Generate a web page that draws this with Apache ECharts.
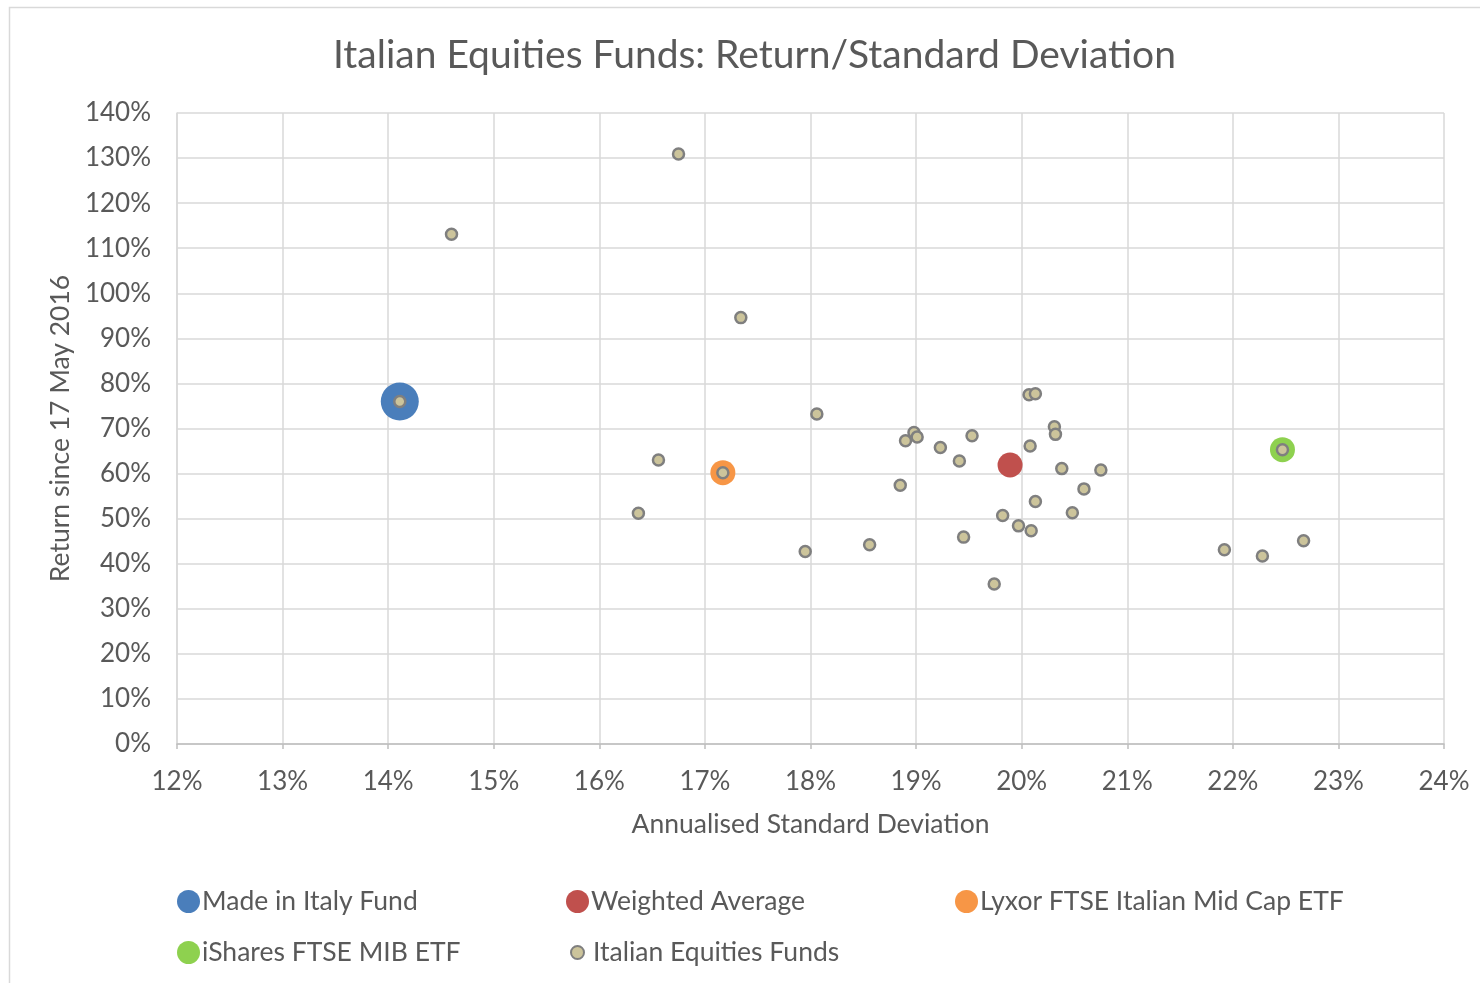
<!DOCTYPE html>
<html>
<head>
<meta charset="utf-8">
<title>Italian Equities Funds: Return/Standard Deviation</title>
<script src="https://cdn.jsdelivr.net/npm/echarts@6/dist/echarts.min.js"></script>
<style>
  html, body { margin: 0; padding: 0; background: #fff; }
  #main { width: 1480px; height: 983px; }
</style>
</head>
<body>
<div id="main"></div>
<script>
// annualised std dev (%) / return since 17 May 2016 (%)
var madeInItaly = [[14.11, 76.0]];
var weightedAvg = [[19.89, 61.9]];
var lyxorMidCap = [[17.17, 60.2]];
var isharesMib = [[22.47, 65.3]];

var fundStd = [14.11, 14.60, 16.37, 16.56, 16.75, 17.17, 17.34, 17.95, 18.06, 18.56,
	18.85, 18.90, 18.98, 19.01, 19.23, 19.41, 19.45, 19.53, 19.74, 19.82,
	19.97, 20.07, 20.08, 20.09, 20.13, 20.13, 20.31, 20.32, 20.38, 20.48,
	20.59, 20.75, 21.92, 22.28, 22.47, 22.67];
var fundRet = [76.0, 113.1, 51.2, 63.0, 130.9, 60.2, 94.6, 42.7, 73.2, 44.2,
	57.4, 67.3, 69.1, 68.1, 65.8, 62.8, 45.9, 68.4, 35.5, 50.7,
	48.4, 77.5, 66.1, 47.3, 77.7, 53.8, 70.4, 68.7, 61.1, 51.3,
	56.6, 60.8, 43.1, 41.7, 65.3, 45.1];

var legendNames = ['Made in Italy Fund', 'Weighted Average', 'Lyxor FTSE Italian Mid Cap ETF',
	'iShares FTSE MIB ETF', 'Italian Equities Funds'];

var funds = [];
for (var i = 0; i < fundStd.length; i++) {
	funds.push([fundStd[i], fundRet[i]]);
}

var font = 'Lato, "Open Sans", sans-serif';
var grey = '#595959';

function legendAt(name, left, top, size, pad) {
	return {
		data: [name],
		left: left,
		top: top,
		icon: 'circle',
		itemWidth: size,
		itemHeight: size,
		selectedMode: false,
		textStyle: { color: grey, fontSize: 26.5, fontFamily: font, padding: [0, 0, 0, pad] }
	};
}

var myChart = echarts.init(document.getElementById('main'));
var option = {
	backgroundColor: '#fff',
	animation: false,
	title: {
		text: 'Italian Equities Funds: Return/Standard Deviation',
		left: 328,
		top: 31,
		textStyle: { color: grey, fontSize: 39, fontWeight: 'normal', fontFamily: font }
	},
	graphic: [{
		type: 'rect',
		shape: { x: 9.5, y: 7.5, width: 1490, height: 990 },
		style: { fill: 'none', stroke: '#d9d9d9', lineWidth: 1.5 },
		silent: true
	}],
	legend: [
		legendAt(legendNames[0], 172, 883, 23, -3),
		legendAt(legendNames[1], 561, 883, 23, -3),
		legendAt(legendNames[2], 950, 883, 23, -3),
		legendAt(legendNames[3], 172, 934, 23, -3),
		legendAt(legendNames[4], 565, 934, 13, 4)
	],
	grid: { left: 177, right: 36, top: 113, bottom: 239, containLabel: false },
	xAxis: {
		type: 'value',
		min: 12,
		max: 24,
		interval: 1,
		name: 'Annualised Standard Deviation',
		nameLocation: 'middle',
		nameGap: 67,
		nameTextStyle: { color: grey, fontSize: 26.5, fontFamily: font },
		axisLine: { show: true, lineStyle: { color: '#bfbfbf', width: 1.5 } },
		axisTick: { show: true, length: 5, lineStyle: { color: '#bfbfbf', width: 1.5 } },
		axisLabel: { formatter: '{value}%', color: grey, fontSize: 26, fontFamily: font, margin: 25 },
		splitLine: { show: true, lineStyle: { color: '#d9d9d9', width: 1.5 } }
	},
	yAxis: {
		type: 'value',
		min: 0,
		max: 140,
		interval: 10,
		name: 'Return since 17 May 2016',
		nameLocation: 'middle',
		nameGap: 102,
		nameTextStyle: { color: grey, fontSize: 26.5, fontFamily: font },
		axisLine: { show: true, lineStyle: { color: '#d9d9d9', width: 1.5 } },
		axisTick: { show: false },
		axisLabel: { formatter: '{value}%', color: grey, fontSize: 26, fontFamily: font, margin: 26 },
		splitLine: { show: true, lineStyle: { color: '#d9d9d9', width: 1.5 } }
	},
	series: [
		{
			name: legendNames[0],
			type: 'scatter',
			data: madeInItaly,
			symbolSize: 38,
			itemStyle: { color: '#4a7ebb', opacity: 1 }
		},
		{
			name: legendNames[1],
			type: 'scatter',
			data: weightedAvg,
			symbolSize: 25,
			itemStyle: { color: '#c0504d', opacity: 1 }
		},
		{
			name: legendNames[2],
			type: 'scatter',
			data: lyxorMidCap,
			symbolSize: 25,
			itemStyle: { color: '#f79646', opacity: 1 }
		},
		{
			name: legendNames[3],
			type: 'scatter',
			data: isharesMib,
			symbolSize: 25,
			itemStyle: { color: '#8ed14f', opacity: 1 }
		},
		{
			name: legendNames[4],
			type: 'scatter',
			data: funds,
			symbolSize: 11,
			itemStyle: { color: '#ccc49b', borderColor: '#7f7f7f', borderWidth: 2.5, opacity: 1 }
		}
	]
};
myChart.setOption(option);
</script>
</body>
</html>
